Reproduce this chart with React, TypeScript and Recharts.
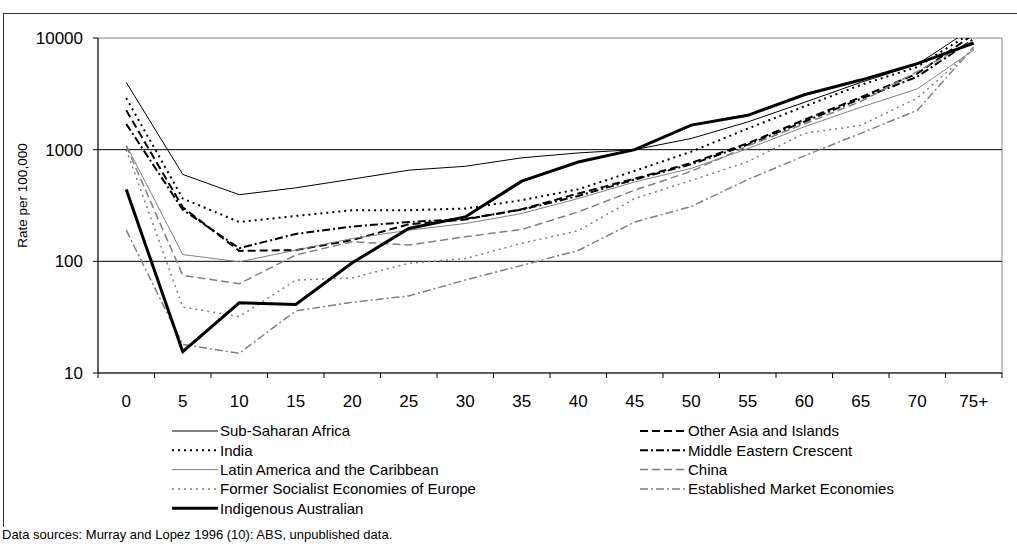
import { LineChart, Line, XAxis, YAxis, ReferenceLine, ReferenceArea } from 'recharts'

// Age groups (start of each 5-year band)
const ages = ['0', '5', '10', '15', '20', '25', '30', '35', '40', '45', '50', '55', '60', '65', '70', '75+']

// Death rates per 100,000 by age group
const subSaharanAfrica = [4000, 600, 395, 455, 545, 655, 710, 845, 935, 1000, 1260, 1770, 2650, 4000, 5800, 12500]
const otherAsia = [2250, 305, 124, 126, 155, 215, 237, 293, 405, 550, 760, 1140, 1850, 2950, 4800, 10800]
const india = [2900, 365, 225, 255, 287, 287, 297, 353, 442, 645, 960, 1545, 2440, 3800, 5500, 11500]
const middleEastern = [1700, 290, 131, 176, 205, 225, 240, 290, 385, 540, 740, 1110, 1780, 2850, 4500, 9800]
const latinAmerica = [1100, 115, 99, 126, 160, 190, 218, 268, 365, 514, 680, 1020, 1600, 2400, 3500, 7800]
const china = [1080, 75, 63, 114, 150, 140, 166, 193, 277, 434, 640, 1080, 1700, 2700, 5000, 9500]
const formerSocialist = [1000, 39, 32, 68, 71, 96, 106, 145, 188, 365, 530, 780, 1400, 1650, 2900, 8000]
const establishedMarket = [190, 18, 15, 36, 43, 49, 68, 92, 125, 225, 310, 540, 880, 1400, 2250, 8300]
const indigenousAustralian = [440, 15.5, 42.5, 41, 97, 197, 250, 522, 776, 1000, 1660, 2030, 3100, 4200, 5900, 9000]

const yTicks = [10, 100, 1000, 10000]

const series = [
  { name: 'Sub-Saharan Africa', values: subSaharanAfrica, color: '#000', width: 1, dash: undefined },
  { name: 'Other Asia and Islands', values: otherAsia, color: '#000', width: 2, dash: '8 4' },
  { name: 'India', values: india, color: '#000', width: 2, dash: '2 4' },
  { name: 'Middle Eastern Crescent', values: middleEastern, color: '#000', width: 2, dash: '8 3 2 3' },
  { name: 'Latin America and the Caribbean', values: latinAmerica, color: '#808080', width: 1, dash: undefined },
  { name: 'China', values: china, color: '#808080', width: 1.5, dash: '8 4' },
  { name: 'Former Socialist Economies of Europe', values: formerSocialist, color: '#808080', width: 1.5, dash: '2 4' },
  { name: 'Established Market Economies', values: establishedMarket, color: '#808080', width: 1.5, dash: '8 3 2 3' },
  { name: 'Indigenous Australian', values: indigenousAustralian, color: '#000', width: 3, dash: undefined },
]

const data = ages.map((age, i) => {
  const row: Record<string, string | number> = { age }
  series.forEach((s) => {
    row[s.name] = s.values[i]
  })
  return row
})

const W = 1017
const H = 544
const MARGIN = { top: 38, right: 15, left: 38, bottom: 141 }
const Y_AXIS_W = 60
const X_AXIS_H = 30
const PLOT_BOTTOM = H - MARGIN.bottom - X_AXIS_H
const BAND = (W - MARGIN.left - MARGIN.right - Y_AXIS_W) / ages.length
const FONT = '"Liberation Sans", Arial, sans-serif'

// Category labels sit mid-band, tick marks sit on the band edges
function AgeTick({ x, y, payload, index }: any) {
  const left = x - BAND / 2
  return (
    <g>
      <line x1={left} x2={left} y1={PLOT_BOTTOM} y2={PLOT_BOTTOM + 5} stroke="#000" />
      {index === ages.length - 1 && (
        <line x1={x + BAND / 2} x2={x + BAND / 2} y1={PLOT_BOTTOM} y2={PLOT_BOTTOM + 5} stroke="#000" />
      )}
      <text x={x} y={y} dy="0.71em" textAnchor="middle" fontSize={17} fill="#000" fontFamily={FONT}>
        {payload.value}
      </text>
    </g>
  )
}

function AxisTitle({ viewBox }: any) {
  const cx = viewBox.x - 16
  const cy = viewBox.y + viewBox.height / 2 - 10
  return (
    <text
      transform={`translate(${cx}, ${cy}) rotate(-90)`}
      textAnchor="middle"
      dominantBaseline="central"
      fontSize={13.5}
      fill="#000"
      fontFamily={FONT}
    >
      Rate per 100,000
    </text>
  )
}

// Two-column legend, filled row by row in series order
function ChartLegend() {
  return (
    <svg width={W} height={110} style={{ position: 'absolute', left: 0, top: 415 }}>
      {series.map((s, i) => {
        const x0 = i % 2 === 0 ? 172 : 640
        const cy = 16 + Math.floor(i / 2) * 19.3
        return (
          <g key={s.name}>
            <line
              x1={x0}
              x2={x0 + 46}
              y1={cy}
              y2={cy}
              stroke={s.color}
              strokeWidth={s.width}
              strokeDasharray={s.dash}
            />
            <text x={x0 + 48} y={cy + 5.3} fontSize={15} fill="#000" fontFamily={FONT}>
              {s.name}
            </text>
          </g>
        )
      })}
    </svg>
  )
}

export default function App() {
  return (
    <div style={{ position: 'absolute', left: 0, top: 0, width: W, height: H, overflow: 'hidden', background: '#fff' }}>
      <div
        style={{
          position: 'absolute',
          left: 3,
          top: 13,
          width: 1030,
          height: 513,
          borderTop: '1px solid #333',
          borderLeft: '1px solid #333',
        }}
      />
      <div style={{ position: 'absolute', left: 0, top: 0 }}>
        <LineChart width={W} height={H} data={data} margin={MARGIN} style={{ fontFamily: FONT }}>
          <XAxis
            dataKey="age"
            scale="band"
            height={X_AXIS_H}
            tickLine={false}
            tickSize={0}
            tickMargin={22}
            axisLine={{ stroke: '#000' }}
            tick={<AgeTick />}
            interval={0}
          />
          <YAxis
            scale="log"
            domain={[10, 10000]}
            ticks={yTicks}
            allowDataOverflow
            width={Y_AXIS_W}
            tickSize={5}
            tickMargin={10}
            tickLine={{ stroke: '#000' }}
            axisLine={{ stroke: '#000' }}
            tick={{ fontSize: 17, fill: '#000', fontFamily: FONT }}
            label={<AxisTitle />}
          />
          <ReferenceArea y1={10} y2={10000} fill="none" stroke="#808080" strokeWidth={1} ifOverflow="visible" />
          <ReferenceLine y={100} stroke="#000" />
          <ReferenceLine y={1000} stroke="#000" />
          {series.map((s) => (
            <Line
              key={s.name}
              dataKey={s.name}
              stroke={s.color}
              strokeWidth={s.width}
              strokeDasharray={s.dash}
              type="linear"
              dot={false}
              activeDot={false}
              isAnimationActive={false}
            />
          ))}
        </LineChart>
      </div>
      <ChartLegend />
      <div
        style={{
          position: 'absolute',
          left: 2,
          top: 527,
          fontSize: 13,
          fontFamily: FONT,
          color: '#000',
          whiteSpace: 'nowrap',
        }}
      >
        Data sources: Murray and Lopez 1996 (10): ABS, unpublished data.
      </div>
    </div>
  )
}
